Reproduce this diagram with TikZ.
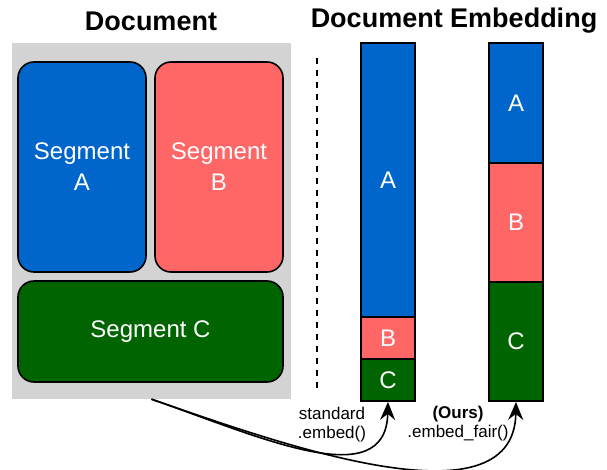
\documentclass[tikz,border=0pt]{standalone}
\usepackage{fontspec}
\setmainfont{Liberation Sans}
\usetikzlibrary{arrows.meta,positioning}

\definecolor{segblue}{RGB}{0,102,204}
\definecolor{segred}{RGB}{255,102,102}
\definecolor{seggreen}{RGB}{0,100,0}
\definecolor{docgray}{RGB}{211,211,211}

\begin{document}
\begin{tikzpicture}[x=1pt,y=-1pt,>={Stealth[length=18pt,width=15pt,inset=6pt]},
  title/.style={font=\fontsize{27}{30}\selectfont\bfseries},
  seg/.style={draw=black,line width=1.6pt,rounded corners=16pt,text=white,
    align=center,font=\fontsize{24}{31}\selectfont,inner sep=0pt},
  part/.style={draw=black,line width=1.8pt,text=white,minimum width=54pt,
    font=\fontsize{24}{27}\selectfont,inner sep=0pt},
  lbl/.style={align=center,font=\fontsize{17}{19}\selectfont,inner sep=0pt},
  flow/.style={->,line width=1.6pt}]

\useasboundingbox (0,0) rectangle (607,470);

% titles
\node[title] (tdoc) at (151,21) {Document};
\node[title] (temb) at (454,21) {Document Embedding};

% the document and its segments
\node[fill=docgray,minimum width=279pt,minimum height=356pt,inner sep=0pt] (doc) at (151.5,221) {};
\node[seg,fill=segblue,minimum width=128pt,minimum height=210pt] (segA) at (82,167) {Segment\\A};
\node[seg,fill=segred,minimum width=128pt,minimum height=210pt] (segB) at (219,167) {Segment\\B};
\node[seg,fill=seggreen,minimum width=265pt,minimum height=101pt] (segC) at (150.5,331.5) {Segment C};

% separator
\coordinate (sepTop) at (317,58);
\coordinate (sepBot) at (317,392);
\draw[line width=1.8pt,dash pattern=on 6pt off 6pt] (sepTop) -- (sepBot);

% standard embedding
\node[part,fill=segblue,minimum height=274pt] (stdA) at (388,180) {A};
\node[part,fill=segred,minimum height=42pt] (stdB) at (388,338) {B};
\node[part,fill=seggreen,minimum height=42pt] (stdC) at (388,380) {C};

% fair embedding
\node[part,fill=segblue,minimum height=120pt] (fairA) at (516,103) {A};
\node[part,fill=segred,minimum height=119pt] (fairB) at (516,222.5) {B};
\node[part,fill=seggreen,minimum height=119pt] (fairC) at (516,341.5) {C};

% method labels
\node[lbl] (lstd) at (332,425) {standard\\.embed()};
\node[lbl] (lfair) at (458,424) {\textbf{(Ours)}\\.embed\_fair()};

% connectors
\draw[flow] (doc.south) .. controls (260,437) and (386,495) .. (stdC.south);
\draw[flow] (doc.south) .. controls (270,440) and (514,530) .. (fairC.south);

\end{tikzpicture}
\end{document}
